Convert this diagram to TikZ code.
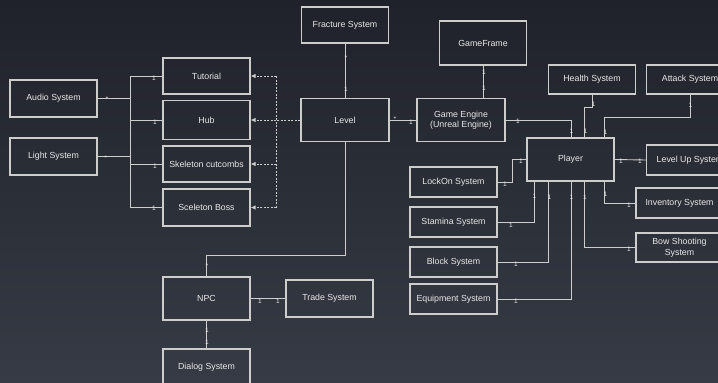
\documentclass[tikz,border=0pt]{standalone}
\usepackage{fontspec}
\setmainfont{Liberation Sans}
\usetikzlibrary{calc,arrows.meta}
\definecolor{bgtop}{HTML}{1F222A}
\definecolor{bgbot}{HTML}{363B45}
\definecolor{ln}{HTML}{CDCDCD}
\definecolor{tx}{HTML}{E8E8E8}
\begin{document}
\begin{tikzpicture}[x=1pt,y=-1pt,
 box/.style={draw=ln,line width=1.1pt,minimum width=87pt,minimum height=37pt,inner sep=1pt,text=tx,font=\fontsize{8.8}{10.5}\selectfont,align=center},
 conn/.style={draw=ln,line width=0.9pt},
 dconn/.style={conn,dash pattern=on 2pt off 1.5pt},
 arr/.style={dconn,-{Latex[length=5pt,width=4.5pt]}},
 m/.style={text=tx,font=\fontsize{6.5}{6.5}\selectfont,inner sep=0pt},
 st/.style={text=tx,font=\fontsize{6.5}{6.5}\selectfont,inner sep=0pt}]
\shade[top color=bgtop,bottom color=bgbot] (0,0) rectangle (718,383);
\useasboundingbox (0,0) rectangle (718,383);
\clip (0,0) rectangle (718,383);

% boxes
\node[box] (audio) at (53.5,98.5) {Audio System};
\node[box] (light) at (53.5,156.5) {Light System};
\node[box,minimum height=36pt] (tut) at (206.5,76) {Tutorial};
\node[box,minimum height=39pt] (hub) at (206.5,120) {Hub};
\node[box,minimum height=36pt] (skel) at (206.5,164) {Skeleton cutcombs};
\node[box] (boss) at (206.5,207.5) {Sceleton Boss};
\node[box,minimum height=36pt] (frac) at (345,25) {Fracture System};
\node[box,minimum width=88pt,minimum height=43pt] (level) at (345,120) {Level};
\node[box,minimum height=44pt] (gf) at (483,43) {GameFrame};
\node[box,minimum width=88pt,minimum height=43pt] (ge) at (461,120) {Game Engine\\(Unreal Engine)};
\node[box,minimum height=29pt] (health) at (592,79.5) {Health System};
\node[box,minimum height=29pt] (attack) at (690,79.5) {Attack System};
\node[box,minimum height=43pt] (player) at (570.5,159.5) {Player};
\node[box,minimum height=30pt] (levelup) at (690,160) {Level Up System};
\node[box,minimum height=30pt] (lockon) at (453.5,182) {LockOn System};
\node[box,minimum height=30pt] (inv) at (679.5,203) {Inventory System};
\node[box,minimum height=30pt] (stam) at (453.5,222) {Stamina System};
\node[box,minimum height=29pt] (bow) at (679.5,247.5) {Bow Shooting\\System};
\node[box,minimum height=30pt] (block) at (453.5,262) {Block System};
\node[box,minimum height=30pt] (equip) at (453.5,299) {Equipment System};
\node[box,minimum height=43pt] (npc) at (206.5,298.5) {NPC};
\node[box] (trade) at (329.5,298.5) {Trade System};
\node[box] (dialog) at (206.5,367.5) {Dialog System};

% helper coordinates
\coordinate (lt) at (130,0);
\coordinate (rt) at (276,0);
\coordinate (x512) at (512,0);
\coordinate (x534) at (534,0);
\coordinate (x548) at (548,0);
\coordinate (x571) at (571,0);
\coordinate (x584) at (584,0);
\coordinate (x604) at (604,0);
\coordinate (y107) at (0,107);
\coordinate (y117) at (0,117);
\coordinate (y255) at (0,255);

% left bus
\draw[conn] (audio.east) -- (audio.east -| lt);
\draw[conn] (light.east) -- (light.east -| lt);
\draw[conn] (tut.west -| lt) -- (boss.west -| lt);
\foreach \n in {tut,hub,skel,boss}{\draw[conn] (\n.west -| lt) -- (\n.west);}

% dashed dependencies
\draw[dconn] (level.west) -- (level.west -| rt);
\draw[dconn] (tut.east -| rt) -- (boss.east -| rt);
\foreach \n in {tut,hub,skel,boss}{\draw[arr] (\n.east -| rt) -- (\n.east);}

% level / engine
\draw[conn] (frac.south) -- (level.north);
\draw[conn] (level.east) -- (ge.west);
\draw[conn] (gf.south) -- (gf.south |- ge.north);
\draw[conn] (ge.east) -| (player.north -| x571);
\draw[conn] (health.south) -- (health.south |- y107) -| (player.north -| x584);
\draw[conn] (attack.south) -- (attack.south |- y117) -| (player.north -| x604);
\draw[conn] (player.east) -- (levelup.west);
\draw[conn] (lockon.east) -- (lockon.east -| x512) |- (player.west);
\draw[conn] (stam.east) -| (player.south -| x534);
\draw[conn] (block.east) -| (player.south -| x548);
\draw[conn] (equip.east) -| (player.south -| x571);
\draw[conn] (player.south -| x584) |- (bow.west);
\draw[conn] (player.south -| x604) |- (inv.west);
\draw[conn] (level.south) -- (level.south |- y255) -| (npc.north);
\draw[conn] (npc.east) -- (trade.west);
\draw[conn] (npc.south) -- (dialog.north);

% multiplicity marks
\node[st] (s1) at (107,98.5) {$\ast$};
\node[st] (s2) at (106,157) {$\ast$};
\node[m] (a1) at (154,78) {1};
\node[m] (a2) at (155,122) {1};
\node[m] (a3) at (155,166) {1};
\node[m] (a4) at (154,208) {1};
\node[st] (s3) at (346,57) {$\ast$};
\node[m] (a5) at (346,89) {1};
\node[st] (s4) at (395,118.5) {$\ast$};
\node[m] (a6) at (411,122) {1};
\node[m] (a7) at (484,72) {1};
\node[m] (a8) at (484,88) {1};
\node[m] (a9) at (518,121.5) {1};
\node[m] (a10) at (571.5,131) {1};
\node[m] (a11) at (593.5,104) {1};
\node[m] (a12) at (585.5,131) {1};
\node[m] (a13) at (690.5,105) {1};
\node[m] (a14) at (605.5,132) {1};
\node[m] (a15) at (621,161) {1};
\node[m] (a16) at (640,161) {1};
\node[m] (a17) at (505,184.5) {1};
\node[m] (a18) at (521,161) {1};
\node[m] (a19) at (511,225) {1};
\node[m] (a20) at (534.5,196) {1};
\node[m] (a21) at (516,264) {1};
\node[m] (a22) at (549.5,197) {1};
\node[m] (a23) at (516,301) {1};
\node[m] (a24) at (571.5,197) {1};
\node[m] (a25) at (585,197) {1};
\node[m] (a26) at (629,249.5) {1};
\node[m] (a27) at (605.5,194) {1};
\node[m] (a28) at (629,205.5) {1};
\node[st] (s5) at (207,265) {$\ast$};
\node[m] (a29) at (260,301) {1};
\node[m] (a30) at (278,301) {1};
\node[m] (a31) at (207,330) {1};
\node[m] (a32) at (207,342) {1};
\end{tikzpicture}
\end{document}
